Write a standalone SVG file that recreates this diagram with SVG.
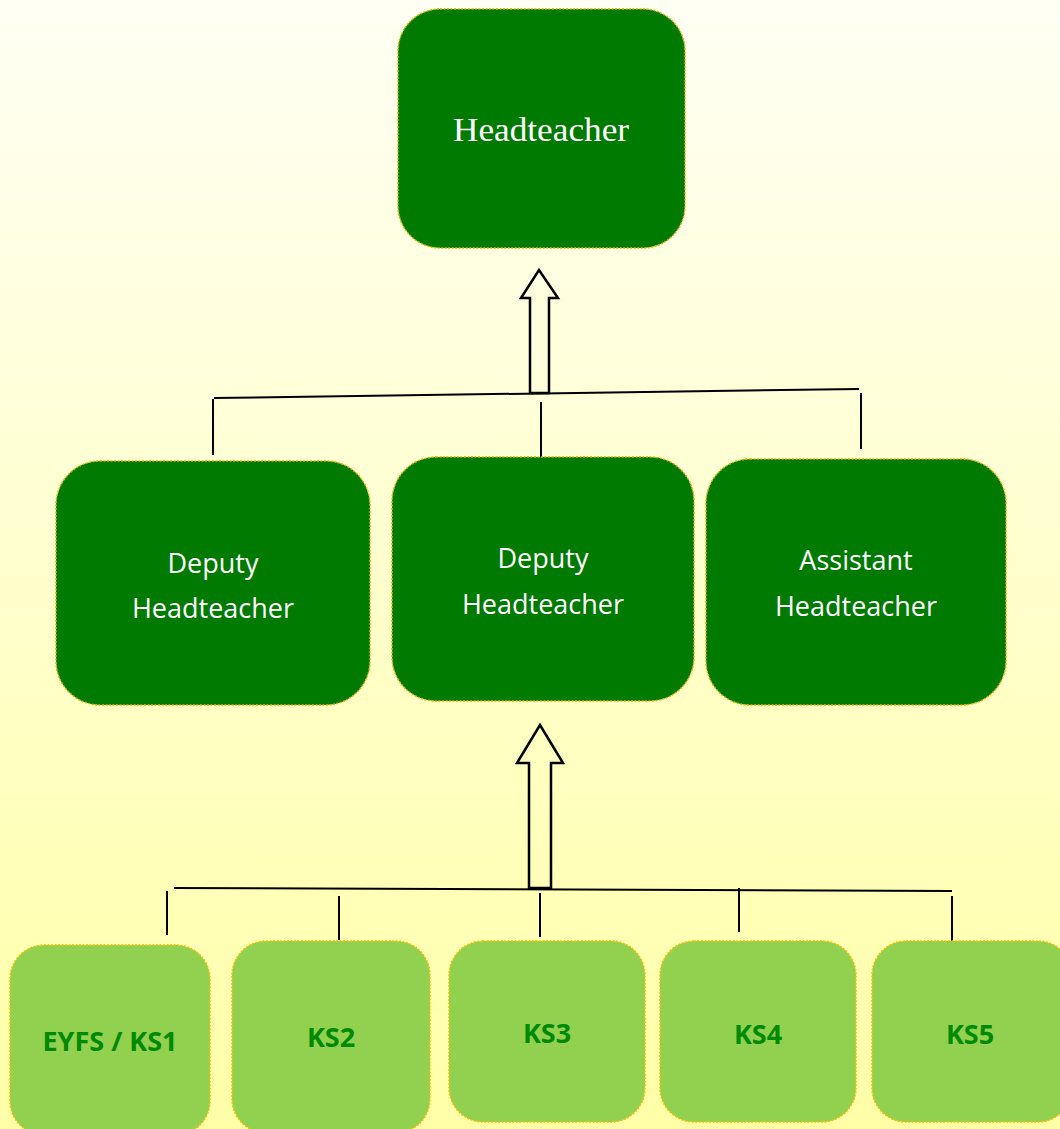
<svg xmlns="http://www.w3.org/2000/svg" width="1060" height="1129" viewBox="0 0 1060 1129">
<defs>
<linearGradient id="bg" x1="0" y1="0" x2="0" y2="1">
<stop offset="0" stop-color="#FFFFF4"/>
<stop offset="1" stop-color="#FFFFA8"/>
</linearGradient>
<style>
.dark{fill:#007A00;stroke:#D4B800;stroke-width:1.5;stroke-dasharray:2 1.5}
.light{fill:#92D050;stroke:#F2C200;stroke-width:1.5;stroke-dasharray:2 1.5}
.lbl{font-family:"Open Sans","Noto Sans","Liberation Sans",sans-serif;font-size:27px;fill:#FFFFFF;text-anchor:middle}
.serif{font-family:"Liberation Serif","DejaVu Serif",serif;font-size:33px;fill:#FFFFFF;text-anchor:middle}
.ks{font-family:"Open Sans","Noto Sans","Liberation Sans",sans-serif;font-size:27px;font-weight:bold;fill:#008A00;text-anchor:middle}
.ln{stroke:#000;stroke-width:2;fill:none}
.arr{fill:none;stroke:#000;stroke-width:2.5;stroke-linejoin:miter}
</style>
</defs>
<rect x="0" y="0" width="1060" height="1129" fill="url(#bg)"/>

<g id="connectors">
<line class="ln" x1="214" y1="398" x2="859" y2="389"/>
<line class="ln" x1="213" y1="399" x2="213" y2="455"/>
<line class="ln" x1="541" y1="402" x2="541" y2="457"/>
<line class="ln" x1="861" y1="393" x2="861" y2="449"/>
<polygon class="arr" points="530,393 530,298 521,298 539,270 558,298 549,298 549,393"/>
<line class="ln" x1="174" y1="888" x2="952" y2="891"/>
<line class="ln" x1="167" y1="891" x2="167" y2="935"/>
<line class="ln" x1="339" y1="896" x2="339" y2="940"/>
<line class="ln" x1="540" y1="893" x2="540" y2="937"/>
<line class="ln" x1="739" y1="888" x2="739" y2="932"/>
<line class="ln" x1="952" y1="896" x2="952" y2="941"/>
<polygon class="arr" points="529,888 529,763 517,763 540,725 563,763 551,763 551,888"/>
</g>

<g id="headteacher">
<rect class="dark" x="398" y="9" width="287" height="239" rx="42"/>
<text class="serif" x="541" y="141" textLength="176" lengthAdjust="spacingAndGlyphs">Headteacher</text>
</g>

<g id="deputy1">
<rect class="dark" x="56" y="461" width="314" height="244" rx="44"/>
<text class="lbl" x="213" y="573">Deputy</text>
<text class="lbl" x="213" y="618">Headteacher</text>
</g>
<g id="deputy2">
<rect class="dark" x="392" y="457" width="302" height="244" rx="44"/>
<text class="lbl" x="543" y="568">Deputy</text>
<text class="lbl" x="543" y="614">Headteacher</text>
</g>
<g id="assistant">
<rect class="dark" x="706" y="459" width="300" height="246" rx="44"/>
<text class="lbl" x="856" y="570">Assistant</text>
<text class="lbl" x="856" y="616">Headteacher</text>
</g>

<g id="eyfs-ks1">
<rect class="light" x="10" y="945" width="200" height="190" rx="34"/>
<text class="ks" x="110" y="1051">EYFS / KS1</text>
</g>
<g id="ks2">
<rect class="light" x="232" y="941" width="198" height="192" rx="34"/>
<text class="ks" x="331" y="1047">KS2</text>
</g>
<g id="ks3">
<rect class="light" x="449" y="941" width="196" height="181" rx="34"/>
<text class="ks" x="547" y="1043">KS3</text>
</g>
<g id="ks4">
<rect class="light" x="660" y="941" width="196" height="181" rx="34"/>
<text class="ks" x="758" y="1044">KS4</text>
</g>
<g id="ks5">
<rect class="light" x="872" y="941" width="200" height="181" rx="34"/>
<text class="ks" x="970" y="1044">KS5</text>
</g>
</svg>
